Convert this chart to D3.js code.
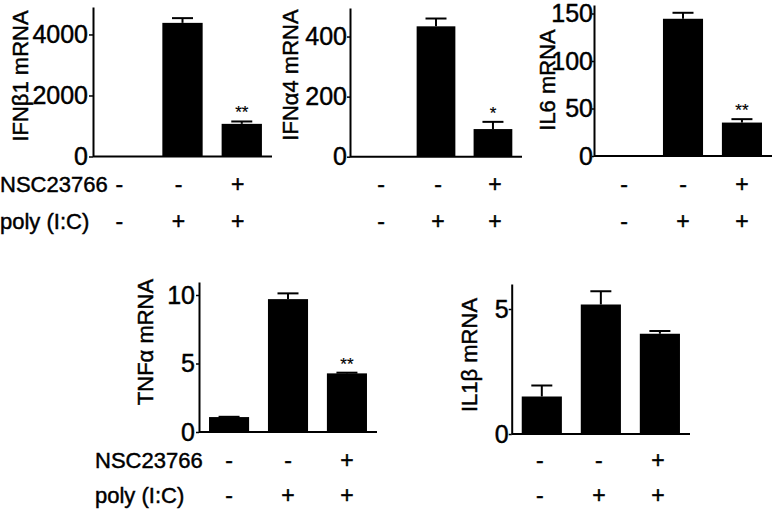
<!DOCTYPE html>
<html>
<head>
<meta charset="utf-8">
<script src="https://cdn.jsdelivr.net/npm/d3@7"></script>
<style>
  html, body { margin: 0; padding: 0; background: #fff; }
  svg { display: block; font-family: "Liberation Sans", Arial, sans-serif; }
  svg text { stroke: #000; stroke-width: 0.45px; }
</style>
</head>
<body>
<svg id="chart" width="779" height="514"></svg>
<script>
// ---------------- data ----------------
const groups = ["ctrl", "polyIC", "polyIC+NSC"];
const nscSigns = ["-", "-", "+"];
const polySigns = ["-", "+", "+"];

const ifnb1Values = [0, 4380, 1070];
const ifnb1Errors = [0, 155, 78];
const ifnb1Sig = ["", "", "**"];
const ifnb1Ticks = [0, 2000, 4000];

const ifna4Values = [2, 434, 92];
const ifna4Errors = [0, 26, 24];
const ifna4Sig = ["", "", "*"];
const ifna4Ticks = [0, 200, 400];

const il6Values = [1, 144.5, 35.2];
const il6Errors = [0, 6.3, 3.6];
const il6Sig = ["", "", "**"];
const il6Ticks = [0, 50, 100, 150];

const tnfaValues = [1.09, 9.7, 4.28];
const tnfaErrors = [0.02, 0.42, 0.05];
const tnfaSig = ["", "", "**"];
const tnfaTicks = [0, 5, 10];

const il1bValues = [1.5, 5.18, 4.01];
const il1bErrors = [0.44, 0.53, 0.11];
const il1bSig = ["", "", ""];
const il1bTicks = [0, 5];

// ---------------- layout ----------------
const panels = [
  { title: "IFNβ1 mRNA", values: ifnb1Values, errors: ifnb1Errors, sig: ifnb1Sig, ticks: ifnb1Ticks, max: 4900,
    x0: 93, x1: 272, yTop: 7, yBase: 156.5, tickSize: 4, tickPad: 1, labX: 20, labY: 76, signShift: -4, rowY: [192, 229], rowLabels: true, rowLabelX: 0 },
  { title: "IFNα4 mRNA", values: ifna4Values, errors: ifna4Errors, sig: ifna4Sig, ticks: ifna4Ticks, max: 495,
    x0: 350, x1: 522, yTop: 8, yBase: 156.7, tickSize: 3, tickPad: 0, labX: 290, labY: 75, signShift: 2, rowY: [192, 229], rowLabels: false },
  { title: "IL6 mRNA", values: il6Values, errors: il6Errors, sig: il6Sig, ticks: il6Ticks, max: 159,
    x0: 594, x1: 772, yTop: 5, yBase: 156, tickSize: 2, tickPad: -1, labX: 547, labY: 80, signShift: 0, rowY: [192, 229], rowLabels: false },
  { title: "TNFα mRNA", values: tnfaValues, errors: tnfaErrors, sig: tnfaSig, ticks: tnfaTicks, max: 10.95,
    x0: 199, x1: 377, yTop: 282, yBase: 432, tickSize: 3, tickPad: 1, labX: 145, labY: 342, signShift: 0, rowY: [468, 503], rowLabels: true, rowLabelX: 95 },
  { title: "IL1β mRNA", values: il1bValues, errors: il1bErrors, sig: il1bSig, ticks: il1bTicks, max: 6.0,
    x0: 511.7, x1: 690, yTop: 284, yBase: 434, tickSize: 3, tickPad: 0, labX: 469, labY: 355, signShift: -2, rowY: [468, 503], rowLabels: false }
];

const svg = d3.select("#chart");

panels.forEach(p => {
  const g = svg.append("g");
  const x = d3.scaleBand().domain(groups).range([p.x0, p.x1]).paddingInner(0.32).paddingOuter(0.17);
  const y = d3.scaleLinear().domain([0, p.max]).range([p.yBase, p.yTop]);

  // bars
  g.selectAll("rect.bar").data(groups).enter().append("rect")
    .attr("class", "bar")
    .attr("x", d => x(d))
    .attr("width", x.bandwidth())
    .attr("y", (d, i) => y(p.values[i]))
    .attr("height", (d, i) => y(0) - y(p.values[i]))
    .attr("fill", "#000");

  // error bars (upper only)
  groups.forEach((d, i) => {
    if (p.errors[i] <= 0) return;
    const cx = x(d) + x.bandwidth() / 2;
    const yv = y(p.values[i]);
    const ye = y(p.values[i] + p.errors[i]);
    g.append("line").attr("x1", cx).attr("x2", cx).attr("y1", yv).attr("y2", ye)
      .attr("stroke", "#000").attr("stroke-width", 2);
    g.append("line").attr("x1", cx - 10.5).attr("x2", cx + 10.5).attr("y1", ye).attr("y2", ye)
      .attr("stroke", "#000").attr("stroke-width", 2);
  });

  // significance stars
  groups.forEach((d, i) => {
    if (!p.sig[i]) return;
    const cx = x(d) + x.bandwidth() / 2;
    const ye = y(p.values[i] + p.errors[i]);
    g.append("text").attr("x", cx).attr("y", ye - 3)
      .attr("text-anchor", "middle").attr("font-size", 17).attr("fill", "#000")
      .style("stroke-width", "0.2px")
      .text(p.sig[i]);
  });

  // y axis
  const yAxis = d3.axisLeft(y).tickValues(p.ticks).tickSize(p.tickSize).tickSizeOuter(0)
    .tickPadding(p.tickPad).tickFormat(d3.format("d"));
  const ag = g.append("g").attr("transform", `translate(${p.x0},0)`).call(yAxis);
  ag.select(".domain").attr("stroke", "#000").attr("stroke-width", 2);
  ag.selectAll(".tick line").attr("stroke", "#000").attr("stroke-width", 1.5);
  ag.selectAll(".tick text").attr("font-size", 25).attr("fill", "#000")
    .attr("font-family", "Liberation Sans, Arial, sans-serif");

  // x baseline
  g.append("line").attr("x1", x.range()[0]).attr("x2", x.range()[1])
    .attr("y1", y(0)).attr("y2", y(0)).attr("stroke", "#000").attr("stroke-width", 2);

  // y label
  g.append("text")
    .attr("transform", `translate(${p.labX},${p.labY}) rotate(-90)`)
    .attr("text-anchor", "middle").attr("dy", "0.36em")
    .attr("font-size", 22).attr("fill", "#000")
    .text(p.title);

  // treatment signs
  [nscSigns, polySigns].forEach((signs, r) => {
    g.selectAll(null).data(groups).enter().append("text")
      .attr("x", d => x(d) + x.bandwidth() / 2 + p.signShift)
      .attr("y", p.rowY[r])
      .attr("text-anchor", "middle").attr("font-size", 23).attr("fill", "#000")
      .text((d, i) => signs[i]);
  });

  if (p.rowLabels) {
    ["NSC23766", "poly (I:C)"].forEach((t, r) => {
      g.append("text").attr("x", p.rowLabelX).attr("y", p.rowY[r])
        .attr("font-size", 22).attr("fill", "#000").text(t);
    });
  }
});
</script>
</body>
</html>
